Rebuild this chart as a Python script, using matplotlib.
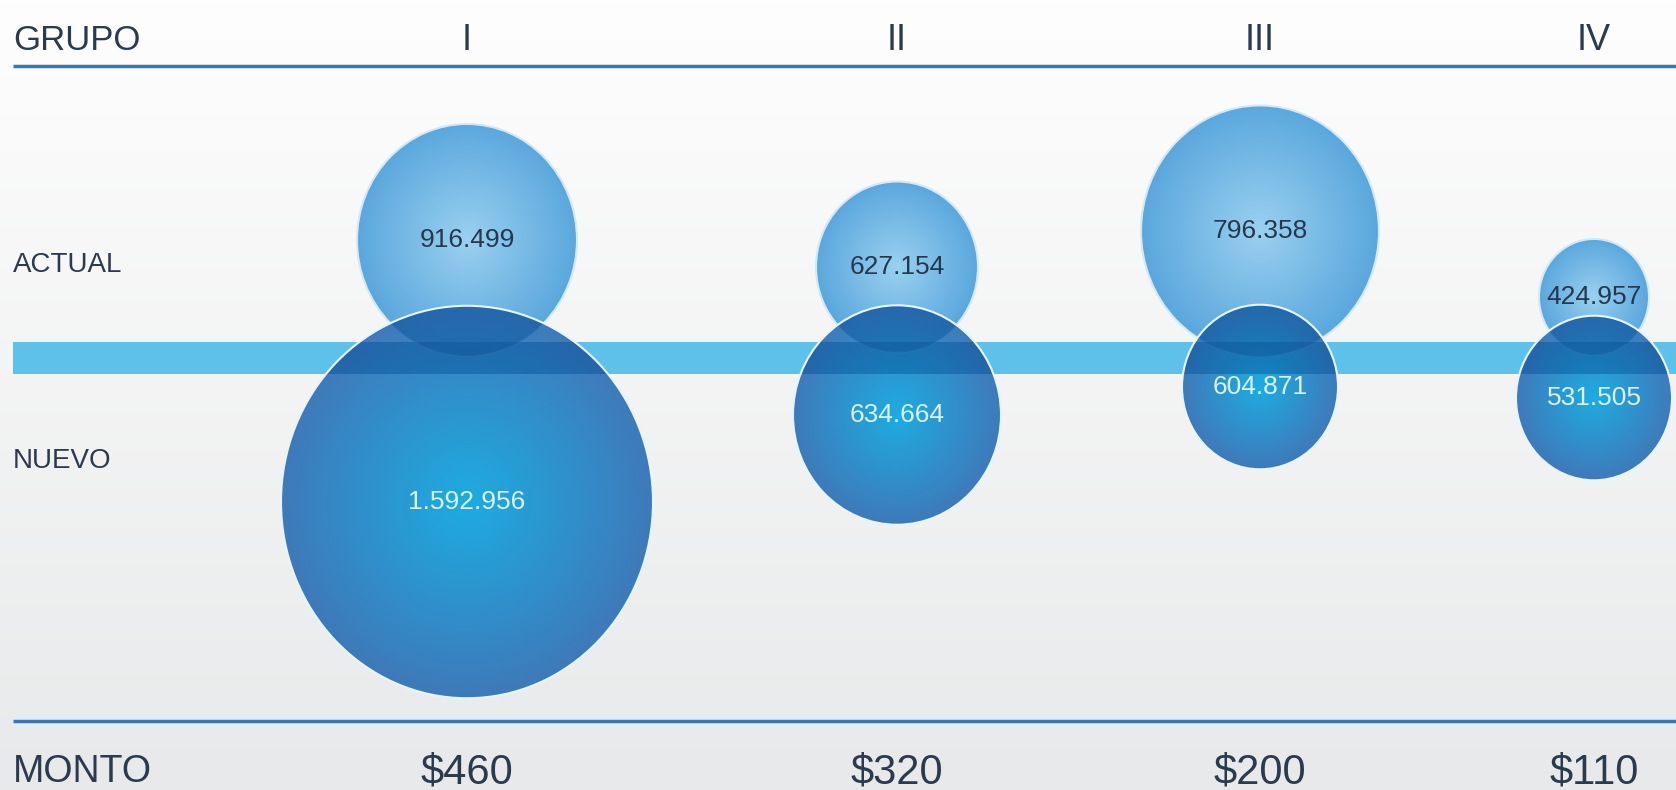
import numpy as np
import matplotlib.pyplot as plt
from matplotlib.patches import Ellipse, Rectangle
from matplotlib.colors import to_rgb

# data
grupos = ["I", "II", "III", "IV"]
actual = [916499, 627154, 796358, 424957]
nuevo = [1592956, 634664, 604871, 531505]
montos = [460, 320, 200, 110]

# layout (pixels)
grupo_x = [467, 897, 1260, 1594]
actual_y = [240, 267, 231, 297]
actual_r = [110, 81, 119, 55]
nuevo_y = [502, 415, 387, 398]
nuevo_r = [186, 104, 78, 78]
STRETCH = 1.055

W, H = 1676, 790
TEXT = "#2c3a4e"
LINE = "#3b77ae"
BAND = "#5ec1ea"

plt.rcParams['font.family'] = ['Liberation Sans Narrow', 'Liberation Sans', 'DejaVu Sans']


def fmt(v):
    return f"{v:,}".replace(",", ".")


def gradient(c_in, c_out, n=256, power=1.0):
    yy, xx = np.mgrid[-1:1:n * 1j, -1:1:n * 1j]
    t = np.clip(np.hypot(xx, yy), 0, 1) ** power
    a, b = np.array(to_rgb(c_in)), np.array(to_rgb(c_out))
    return a * (1 - t[..., None]) + b * t[..., None]


def bubble(ax, x, y, r, c_in, c_out, alpha, z, edge):
    ry = r * STRETCH
    e = Ellipse((x, y), 2 * r, 2 * ry, facecolor='none', edgecolor=edge, lw=1.5, zorder=z + 0.5)
    ax.add_patch(e)
    im = ax.imshow(gradient(c_in, c_out), extent=(x - r, x + r, y + ry, y - ry),
                   alpha=alpha, zorder=z, interpolation='bilinear', aspect='auto')
    im.set_clip_path(e)
    return e


fig = plt.figure(figsize=(W / 100, H / 100), dpi=100)
ax = fig.add_axes([0, 0, 1, 1])
ax.axis("off")

# background
bg = np.linspace(0, 1, 256)[:, None] * np.ones((1, 4))
bg_rgb = np.array(to_rgb("#fefefe")) * (1 - bg[..., None]) + np.array(to_rgb("#e8e9ea")) * bg[..., None]
ax.imshow(bg_rgb, extent=(0, W, H, 0), zorder=0, aspect='auto')

# band and rules
ax.add_patch(Rectangle((13, 342), W - 13, 32, color=BAND, zorder=1, lw=0))
ax.plot([13, W], [66, 66], color=LINE, lw=2.5, zorder=1, solid_capstyle='butt')
ax.plot([13, W], [721, 721], color="#e4edf4", lw=9, zorder=1, solid_capstyle='butt')
ax.plot([13, W], [721, 721], color=LINE, lw=2.5, zorder=1.1, solid_capstyle='butt')

for i in range(len(grupos)):
    x = grupo_x[i]
    ea = bubble(ax, x, actual_y[i], actual_r[i], "#95cff0", "#52a3dc", 0.95, 2, "#d2eaf8")
    en = bubble(ax, x, nuevo_y[i], nuevo_r[i], "#0aa6e0", "#2f6fb5", 0.92, 3, "#e6f5fc")

    # darker band and overlap seen through the front bubble
    shade = Rectangle((0, 342), W, 32, color="#0a4a8c", alpha=0.35, zorder=3.2, lw=0)
    ax.add_patch(shade)
    shade.set_clip_path(en)
    over = Ellipse((x, actual_y[i]), 2 * actual_r[i], 2 * actual_r[i] * STRETCH,
                   color="#0a4a8c", alpha=0.3, zorder=3.3, lw=0)
    ax.add_patch(over)
    over.set_clip_path(en)

    ax.text(x, actual_y[i], fmt(actual[i]), ha='center', va='center',
            fontsize=19, color="#24384f", zorder=6)
    ax.text(x, nuevo_y[i], fmt(nuevo[i]), ha='center', va='center',
            fontsize=19, color="#d6f2fb", zorder=6)

    ax.text(x, 41, grupos[i], ha='center', va='center', fontsize=26, color=TEXT)
    ax.text(x, 772, f"${montos[i]}", ha='center', va='center', fontsize=30, color=TEXT)

ax.text(13, 41, "GRUPO", ha='left', va='center', fontsize=25, color=TEXT)
ax.text(13, 265, "ACTUAL", ha='left', va='center', fontsize=20, color=TEXT)
ax.text(13, 461, "NUEVO", ha='left', va='center', fontsize=20, color=TEXT)
ax.text(13, 772, "MONTO", ha='left', va='center', fontsize=27, color=TEXT)

ax.set_xlim(0, W)
ax.set_ylim(H, 0)

fig.savefig("out.png", dpi=100)
